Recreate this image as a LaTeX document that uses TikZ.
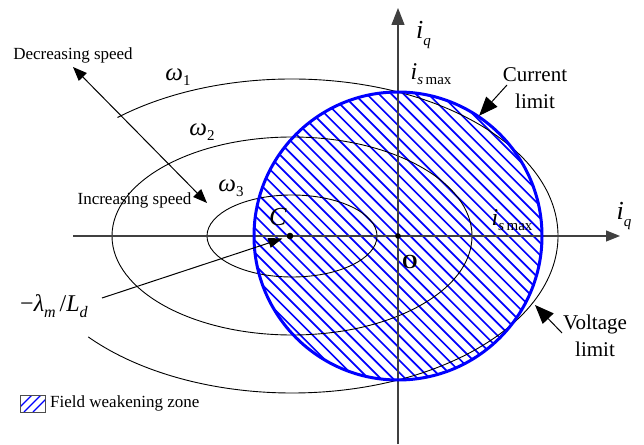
\documentclass[tikz,border=0pt]{standalone}
\usepackage{fontspec}
\setmainfont{Liberation Serif}
\usetikzlibrary{arrows.meta,calc}
\newcommand{\fs}[1]{\fontsize{#1}{#1}\selectfont}
\newcommand{\symsub}[4]{{\fs{#1}#2}\raisebox{-#4}{\fs{15}#3}}
\begin{document}
\begin{tikzpicture}[x=1pt,y=1pt,
  axis/.style={draw=black!75, line width=1.1pt},
  curve/.style={draw=black, line width=0.9pt},
  hatchline/.style={draw=blue, line width=1.7pt},
  limit/.style={draw=blue, line width=3pt},
  lbl/.style={font=\fs{17}, inner sep=0pt},
  big/.style={font=\fontsize{21}{27}\selectfont, inner sep=0pt, align=center},
  mlbl/.style={inner sep=0pt},
  ptr/.style={draw=black, line width=1pt, -{Triangle[length=19pt,width=15pt]}},
  thinptr/.style={draw=black, line width=1pt, -{Triangle[length=14pt,width=10pt]}},
  dptr/.style={draw=black, line width=1pt, {Triangle[length=14pt,width=11pt]}-{Triangle[length=14pt,width=11pt]}},
]
\useasboundingbox (0,0) rectangle (644,444);
\fill[white] (0,0) rectangle (644,444);
\coordinate (O) at (398,208);
\coordinate (Ec) at (292,208);
\coordinate (C) at (290,208);

% hatching of the field weakening zone
\begin{scope}
  \clip (O) circle (144);
  \foreach \k in {-19,...,19} {
    \pgfmathsetmacro\xa{398+\k*12.3-220}
    \pgfmathsetmacro\xb{398+\k*12.3+220}
    \draw[hatchline] (\xa,428) -- (\xb,-12);
  }
\end{scope}

% voltage limit ellipses
\draw[curve] (Ec) ellipse [x radius=85, y radius=41];
\draw[curve] (Ec) ellipse [x radius=180, y radius=99];
\draw[curve] ([shift={(131:266 and 157)}]Ec) arc [start angle=131, end angle=-140, x radius=266, y radius=157];

% axes
\coordinate (xl) at (73,208);
\coordinate (xr) at (620,208);
\coordinate (yb) at (398,0);
\coordinate (yt) at (398,436);
\draw[axis, -{Triangle[length=14pt,width=11pt]}] (xl) -- (xr);
\draw[axis, -{Triangle[length=17pt,width=13pt]}] (yb) -- (yt);

% current limit circle
\draw[limit] (O) circle (144);

% points
\fill (O) circle (2.8);
\fill (C) circle (3.3);

% labels
\node[mlbl] (iqt) at (423.5,409) {\symsub{26}{\textit{i}}{\textit{q}}{7pt}};
\node[mlbl] (iqr) at (624,228.5) {\symsub{26}{\textit{i}}{\textit{q}}{7pt}};
\node[mlbl] (ismt) at (431,370) {\symsub{24}{\textit{i}}{\textit{s}\,max}{5pt}};
\node[mlbl] (ismr) at (512,224) {\symsub{24}{\textit{i}}{\textit{s}\,max}{5pt}};
\node[mlbl, font=\fs{26}] (Cl) at (278,227) {\textit{C}};
\node[mlbl, font=\bfseries\fs{20}] (Ol) at (410,182) {O};
\node[mlbl] (w1) at (178,367) {\symsub{25}{\textit{ω}}{1}{5pt}};
\node[mlbl] (w2) at (202,312) {\symsub{25}{\textit{ω}}{2}{5pt}};
\node[mlbl] (w3) at (231,256) {\symsub{25}{\textit{ω}}{3}{5pt}};
\node[mlbl] (lam) at (54,138) {{\fs{24}−\textit{λ}}\raisebox{-6pt}{\fs{16}\textit{m}}{\fs{24}\,/\textit{L}}\raisebox{-6pt}{\fs{16}\textit{d}}};

\node[lbl] (dec) at (73,389) {Decreasing speed};
\node[lbl] (inc) at (134.5,244) {Increasing speed};
\coordinate (sp1) at (73,377);
\coordinate (sp2) at (207,241);
\draw[dptr] (sp1) -- (sp2);

\node[big] (cur) at (535,356) {Current\\limit};
\coordinate (curtail) at (507,359);
\coordinate (curtip) at ($(O)+(56:145)$);
\draw[ptr] (curtail) -- (curtip);

\node[big] (volt) at (595,108) {Voltage\\limit};
\coordinate (volttail) at (562,111);
\coordinate (volttip) at (535,139);
\draw[ptr] (volttail) -- (volttip);

\coordinate (lamtail) at (102,146);
\draw[thinptr, shorten >=8pt] (lamtail) -- (C);

% legend
\node[draw=black!70, line width=0.8pt, minimum width=25pt, minimum height=17pt, inner sep=0pt,
  path picture={
    \foreach \d in {-9,0,9} {
      \draw[blue, line width=1.4pt] ($(path picture bounding box.center)+(\d-8.5,-8.5)$) -- ++(17,17);
    }
  }] (legbox) at (32.5,40.5) {};
\node[lbl, anchor=west] (leg) at (50,41) {Field weakening zone};
\end{tikzpicture}
\end{document}
